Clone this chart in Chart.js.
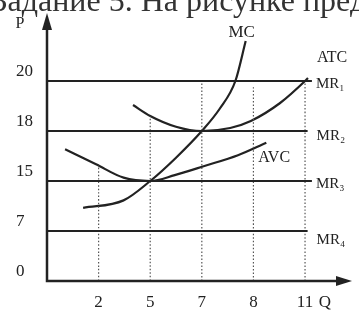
<!DOCTYPE html>
<html>
<head>
<meta charset="utf-8">
<script src="https://cdn.jsdelivr.net/npm/chart.js@4.4.1/dist/chart.umd.min.js"></script>
<style>
  html, body { margin: 0; padding: 0; background: #fff; }
  #wrap { width: 359px; height: 316px; }
</style>
</head>
<body>
<div id="wrap"><canvas id="chart" width="359" height="316"></canvas></div>
<script>
// axis marks as printed
const qTicks = [2, 5, 7, 8, 11];
const pTicks = [0, 7, 15, 18, 20];

// horizontal revenue lines
const mrLevels = [20, 18, 15, 7];
const mrLabels = ['MR₁', 'MR₂', 'MR₃', 'MR₄'];
const mrEnds = [11.4, 11.15, 11.4, 11.15];

// cost curves (Q, P)
const mcQ = [1.4, 3.45, 5, 6.0, 7, 7.35, 7.65, 7.85];
const mcP = [10.7, 11.9, 15, 16.4, 18, 18.9, 20, 21.6];
const atcQ = [4.0, 5, 6, 7, 7.55, 7.95, 9.55, 11, 11.17];
const atcP = [19.04, 18.6, 18.17, 18, 18.12, 18.4, 19.12, 20, 20.12];
const avcQ = [0.7, 1.9, 3.45, 5, 5.95, 7.05, 7.7, 8.75];
const avcP = [16.9, 16.0, 15.2, 15, 15.35, 15.9, 16.55, 17.3];

// dotted drop lines: at Q, up to P
const guideQ = [2, 5, 7, 8, 11];
const guideTop = [15.95, 18.6, 20, 19.75, 20];

const INK = '#222';
const FONT = '"Liberation Serif", "DejaVu Serif", serif';

// the drawing is schematic: printed marks are spaced evenly, not to scale
class RankScale extends Chart.LinearScale {
  determineDataLimits() {
    const b = this.options.breaks;
    this.min = b[0];
    this.max = b[b.length - 1];
  }
  buildTicks() {
    return this.options.marks.map(v => ({ value: v }));
  }
  toRank(v) {
    const b = this.options.breaks;
    const n = b.length;
    if (v <= b[0]) return (v - b[0]) / (b[1] - b[0]);
    for (let i = 1; i < n; i++) {
      if (v <= b[i]) return i - 1 + (v - b[i - 1]) / (b[i] - b[i - 1]);
    }
    return n - 1 + (v - b[n - 1]) / (b[n - 1] - b[n - 2]);
  }
  fromRank(r) {
    const b = this.options.breaks;
    const n = b.length;
    const i = Math.max(0, Math.min(n - 2, Math.floor(r)));
    return b[i] + (r - i) * (b[i + 1] - b[i]);
  }
  getPixelForValue(v) {
    return this.getPixelForDecimal(this.toRank(v) / this.options.span);
  }
  getValueForPixel(p) {
    return this.fromRank(this.getDecimalForPixel(p) * this.options.span);
  }
}
RankScale.id = 'rank';
RankScale.defaults = {};
Chart.register(RankScale);

const pts = (xs, ys) => xs.map((x, i) => ({ x, y: ys[i] }));

const datasets = [];
mrLevels.forEach((p, i) => {
  datasets.push({
    data: [{ x: 0, y: p }, { x: mrEnds[i], y: p }],
    borderColor: INK, borderWidth: 2,
    tag: { text: mrLabels[i], dx: [4, 9, 4, 9][i], dy: [3, 5, 3, 9][i], align: 'left', size: 15 },
  });
});
guideQ.forEach((q, i) => {
  datasets.push({
    data: [{ x: q, y: 0 }, { x: q, y: guideTop[i] }],
    borderColor: '#555', borderWidth: 1.2, borderDash: [1.5, 2],
  });
});
datasets.push({
  data: pts(mcQ, mcP), borderColor: INK, borderWidth: 2.2,
  cubicInterpolationMode: 'monotone',
  tag: { text: 'MC', dx: -4, dy: -8, align: 'center', size: 17 },
});
datasets.push({
  data: pts(atcQ, atcP), borderColor: INK, borderWidth: 2.2,
  cubicInterpolationMode: 'monotone',
  tag: { text: 'ATC', dx: 9, dy: -20, align: 'left', size: 16 },
});
datasets.push({
  data: pts(avcQ, avcP), borderColor: INK, borderWidth: 2.2,
  cubicInterpolationMode: 'monotone',
  tag: { text: 'AVC', dx: -8, dy: 15, align: 'left', size: 16 },
});

// axis lines with arrowheads, P and Q letters, curve tags, cut-off heading
const decor = {
  id: 'decor',
  afterDraw(chart) {
    const { ctx, chartArea: a } = chart;
    ctx.save();
    ctx.strokeStyle = INK;
    ctx.fillStyle = INK;
    ctx.lineWidth = 2.5;
    ctx.beginPath();
    ctx.moveTo(a.left, a.top + 10);
    ctx.lineTo(a.left, a.bottom);
    ctx.lineTo(a.right - 10, a.bottom);
    ctx.stroke();
    ctx.beginPath();
    ctx.moveTo(a.left, a.top - 1);
    ctx.lineTo(a.left - 5, a.top + 16);
    ctx.lineTo(a.left + 5, a.top + 16);
    ctx.closePath();
    ctx.fill();
    ctx.beginPath();
    ctx.moveTo(a.right, a.bottom);
    ctx.lineTo(a.right - 16, a.bottom - 5);
    ctx.lineTo(a.right - 16, a.bottom + 5);
    ctx.closePath();
    ctx.fill();

    ctx.textBaseline = 'middle';
    ctx.textAlign = 'center';
    ctx.font = '16px ' + FONT;
    ctx.fillText('P', 20, 24);
    ctx.font = '17px ' + FONT;
    ctx.fillText('Q', a.right - 27, 303);

    chart.data.datasets.forEach((ds, i) => {
      if (!ds.tag) return;
      const pts = chart.getDatasetMeta(i).data;
      const last = pts[pts.length - 1];
      ctx.font = ds.tag.size + 'px ' + FONT;
      ctx.textAlign = ds.tag.align;
      ctx.fillText(ds.tag.text, last.x + ds.tag.dx, last.y + ds.tag.dy);
    });

    ctx.font = '32px ' + FONT;
    ctx.textAlign = 'left';
    ctx.textBaseline = 'alphabetic';
    ctx.fillStyle = '#333';
    const head = 'Задание 5. На ';
    const x0 = 186 - ctx.measureText(head).width;
    ctx.fillText(head + 'рисунке представлены', x0, 11);
    ctx.restore();
  },
};

Chart.defaults.font.family = FONT;
Chart.defaults.color = INK;

new Chart(document.getElementById('chart'), {
  type: 'line',
  data: { datasets },
  options: {
    responsive: false,
    devicePixelRatio: 1,
    animation: false,
    layout: { padding: { left: 16, top: 14, right: 7, bottom: 0 } },
    elements: { point: { radius: 0 }, line: { tension: 0.4 } },
    plugins: { legend: { display: false }, tooltip: { enabled: false } },
    scales: {
      x: {
        type: 'rank',
        breaks: [0, 2, 5, 7, 8, 11],
        marks: qTicks,
        span: 5.91,
        grid: { display: false, drawTicks: false },
        border: { display: false },
        ticks: { padding: 11, font: { size: 17 }, color: INK, callback: v => String(v), autoSkip: false, maxRotation: 0 },
        afterFit: s => { s.height = 35; },
      },
      y: {
        type: 'rank',
        breaks: [0, 7, 15, 18, 20],
        marks: pTicks,
        span: 5.34,
        grid: { display: false, drawTicks: false },
        border: { display: false },
        ticks: { crossAlign: 'far', labelOffset: -9, font: { size: 17 }, color: INK, callback: v => String(v), autoSkip: false },
        afterFit: s => { s.width = 31; },
      },
    },
  },
  plugins: [decor],
});
</script>
</body>
</html>
